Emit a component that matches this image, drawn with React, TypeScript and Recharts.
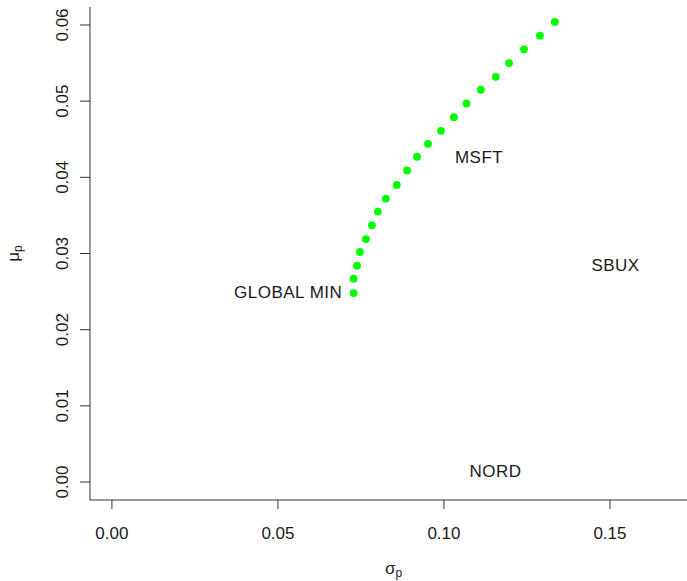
import { ScatterChart, Scatter, XAxis, YAxis } from "recharts";

// efficient frontier, from the global minimum upwards
const sigmaP = [
  0.0728, 0.0728, 0.0738, 0.0747, 0.0765, 0.0783, 0.0801, 0.0825, 0.0858, 0.0889, 0.0919,
  0.0952, 0.0991, 0.103, 0.1068, 0.1111, 0.1156, 0.1196, 0.1241, 0.1289, 0.1334
];
const muP = [
  0.0248, 0.0267, 0.0284, 0.0302, 0.0319, 0.0337, 0.0355, 0.0372, 0.039, 0.0409, 0.0427,
  0.0444, 0.0461, 0.0479, 0.0497, 0.0515, 0.0532, 0.055, 0.0568, 0.0586, 0.0604
];

// labelled portfolios (sd, mean)
const assetNames = ["MSFT", "NORD", "SBUX", "GLOBAL MIN"];
const assetSd = [0.1, 0.1044, 0.1411, 0.0727];
const assetMu = [0.0427, 0.0015, 0.0285, 0.0249];

const xTicks = [0, 0.05, 0.1, 0.15];
const yTicks = [0, 0.01, 0.02, 0.03, 0.04, 0.05, 0.06];

const frontier = sigmaP.map((s, i) => ({ x: s, y: muP[i] }));
const assets = assetNames.map((name, i) => ({ name, x: assetSd[i], y: assetMu[i] }));

const FONT = "'Liberation Sans', Arial, sans-serif";
const INK = "#1a1a1a";

function YTick(props: any) {
  const { x, y, payload } = props;
  return (
    <text
      x={x}
      y={y}
      transform={`rotate(-90 ${x} ${y})`}
      textAnchor="middle"
      fill={INK}
      fontSize={17}
      fontFamily={FONT}
    >
      {Number(payload.value).toFixed(2)}
    </text>
  );
}

function XLabel(props: any) {
  const { viewBox } = props;
  const cx = viewBox.x + viewBox.width / 2 + 5;
  return (
    <text x={cx} y={574} textAnchor="middle" fill={INK} fontFamily={FONT} fontSize={17}>
      σ<tspan fontSize={12} dy={3}>p</tspan>
    </text>
  );
}

function YLabel(props: any) {
  const { viewBox } = props;
  const cy = viewBox.y + viewBox.height / 2;
  const x = 19;
  return (
    <text
      x={x}
      y={cy}
      transform={`rotate(-90 ${x} ${cy})`}
      textAnchor="middle"
      fill={INK}
      fontFamily={FONT}
      fontSize={17}
    >
      μ<tspan fontSize={12} dy={3}>p</tspan>
    </text>
  );
}

function Dot(props: any) {
  return <circle cx={props.cx} cy={props.cy} r={3.9} fill="#00ff00" />;
}

function AssetText(props: any) {
  const left = props.payload.name === "GLOBAL MIN";
  return (
    <text
      x={props.cx + (left ? -11 : 11)}
      y={props.cy}
      dy="0.36em"
      textAnchor={left ? "end" : "start"}
      fill={INK}
      fontFamily={FONT}
      fontSize={17}
      letterSpacing={0.5}
    >
      {props.payload.name}
    </text>
  );
}

export default function App() {
  return (
    <div style={{ position: "absolute", left: 0, top: 0, background: "#fff" }}>
      <ScatterChart width={687} height={581} margin={{ top: 7, right: 0, left: 0, bottom: 0 }}>
        <XAxis
          type="number"
          dataKey="x"
          domain={[-0.0066, 0.1732]}
          ticks={xTicks}
          allowDataOverflow
          height={81}
          tickSize={9}
          tickMargin={18}
          tickFormatter={(v: number) => v.toFixed(2)}
          tick={{ fill: INK, fontSize: 17, fontFamily: FONT }}
          axisLine={{ stroke: "#333" }}
          tickLine={{ stroke: "#333" }}
          label={<XLabel />}
        />
        <YAxis
          type="number"
          dataKey="y"
          domain={[-0.00236, 0.06236]}
          ticks={yTicks}
          allowDataOverflow
          width={90}
          tickSize={10}
          tickMargin={12}
          tick={<YTick />}
          axisLine={{ stroke: "#333" }}
          tickLine={{ stroke: "#333" }}
          label={<YLabel />}
        />
        <Scatter data={frontier} shape={<Dot />} isAnimationActive={false} />
        <Scatter data={assets} shape={<AssetText />} isAnimationActive={false} />
      </ScatterChart>
    </div>
  );
}
